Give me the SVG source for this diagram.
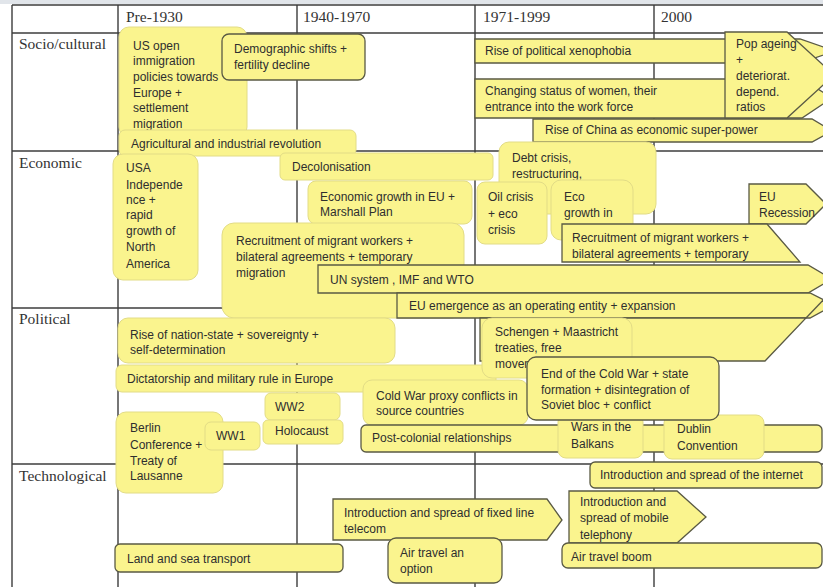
<svg xmlns="http://www.w3.org/2000/svg" width="823" height="587" viewBox="0 0 823 587">
<style>
.grid line{stroke:#3c3c3c;stroke-width:1.4}
.hd{font-family:"Liberation Serif","Times New Roman",serif;font-size:15.5px;fill:#333}
.n{fill:#FAF48E}
.d{stroke:#5a5a44;stroke-width:1.3}
.s{stroke:#e2dc86;stroke-width:1}
.t{font-family:"Liberation Sans",Arial,sans-serif;font-size:12px;fill:#2e2e2e}
</style>
<rect width="823" height="587" fill="#fff"/>
<rect width="823" height="4" fill="#e1e5ea"/>
<g class="grid">
<line x1="12" y1="5" x2="823" y2="5"/>
<line x1="12" y1="33" x2="823" y2="33"/>
<line x1="12" y1="151" x2="823" y2="151"/>
<line x1="12" y1="308" x2="823" y2="308"/>
<line x1="12" y1="464" x2="823" y2="464"/>
<line x1="12" y1="5" x2="12" y2="587"/>
<line x1="118" y1="5" x2="118" y2="587"/>
<line x1="297" y1="5" x2="297" y2="587"/>
<line x1="475" y1="5" x2="475" y2="587"/>
<line x1="654" y1="5" x2="654" y2="587"/>
</g>
<g id="headers">
<text class="hd" x="126" y="22">Pre-1930</text>
<text class="hd" x="303" y="22">1940-1970</text>
<text class="hd" x="483" y="22">1971-1999</text>
<text class="hd" x="661" y="22">2000</text>
<text class="hd" x="19" y="49">Socio/cultural</text>
<text class="hd" x="19" y="168">Economic</text>
<text class="hd" x="19" y="324">Political</text>
<text class="hd" x="19" y="481">Technological</text>
</g>
<g id="connectors"></g>
<g id="us-open"><rect class="n s" x="119" y="27" width="128" height="110" rx="10"/>
<text class="t" x="133" y="50">US open</text><text class="t" x="133" y="65">immigration</text><text class="t" x="133" y="81">policies towards</text><text class="t" x="133" y="97">Europe +</text><text class="t" x="133" y="112">settlement</text><text class="t" x="133" y="128">migration</text></g>
<g id="demographic"><rect class="n d" x="222" y="34" width="143" height="46" rx="7"/>
<text class="t" x="234" y="53">Demographic shifts +</text><text class="t" x="234" y="69">fertility decline</text></g>
<g id="agricultural"><rect class="n s" x="119" y="130" width="237" height="26" rx="6"/>
<text class="t" x="131" y="148">Agricultural and industrial revolution</text></g>
<g id="xenophobia"><polygon class="n d" points="475,39 800,39 835,51 800,63 475,63"/>
<text class="t" x="485" y="55">Rise of political xenophobia</text></g>
<g id="women"><polygon class="n d" points="475,79 802,79 832,98 802,118 475,118"/>
<text class="t" x="485" y="95">Changing status of women, their</text><text class="t" x="485" y="111">entrance into the work force</text></g>
<g id="china"><polygon class="n d" points="533,119 812,119 832,131 812,142 533,142"/>
<text class="t" x="545" y="134">Rise of China as economic super-power</text></g>
<g id="pop-ageing"><polygon class="n d" points="725,32 787,32 834,75 787,118 725,118"/>
<text class="t" x="736" y="48">Pop ageing</text><text class="t" x="736" y="64">+</text><text class="t" x="736" y="80">deteriorat.</text><text class="t" x="736" y="96">depend.</text><text class="t" x="736" y="111">ratios</text></g>
<g id="debt"><rect class="n s" x="499" y="142" width="157" height="72" rx="10"/>
<text class="t" x="512" y="162">Debt crisis,</text><text class="t" x="512" y="178">restructuring,</text></g>
<g id="decolonisation"><rect class="n s" x="280" y="153" width="213" height="27" rx="5"/>
<text class="t" x="292" y="171">Decolonisation</text></g>
<g id="usa"><rect class="n s" x="113" y="154" width="85" height="126" rx="10"/>
<text class="t" x="126" y="172">USA</text><text class="t" x="126" y="189">Independe</text><text class="t" x="126" y="204">nce +</text><text class="t" x="126" y="219">rapid</text><text class="t" x="126" y="235">growth of</text><text class="t" x="126" y="251">North</text><text class="t" x="126" y="268">America</text></g>
<g id="eu-growth"><rect class="n s" x="308" y="181" width="164" height="43" rx="8"/>
<text class="t" x="320" y="201">Economic growth in EU +</text><text class="t" x="320" y="216">Marshall Plan</text></g>
<g id="oil"><rect class="n s" x="477" y="182" width="70" height="62" rx="8"/>
<text class="t" x="488" y="201">Oil crisis</text><text class="t" x="488" y="218">+ eco</text><text class="t" x="488" y="234">crisis</text></g>
<g id="eco"><rect class="n s" x="551" y="180" width="82" height="60" rx="10"/>
<text class="t" x="564" y="201">Eco</text><text class="t" x="564" y="217">growth in</text></g>
<g id="recession"><polygon class="n d" points="749,184 806,184 826,204 806,224 749,224"/>
<text class="t" x="759" y="201">EU</text><text class="t" x="759" y="217">Recession</text></g>
<g id="recruit-left"><rect class="n s" x="222" y="223" width="242" height="95" rx="12"/>
<text class="t" x="236" y="245">Recruitment of migrant workers +</text><text class="t" x="236" y="261">bilateral agreements + temporary</text><text class="t" x="236" y="277">migration</text></g>
<g id="recruit-right"><polygon class="n d" points="562,224 767,224 800,262 562,262"/>
<text class="t" x="572" y="242">Recruitment of migrant workers +</text><text class="t" x="572" y="258">bilateral agreements + temporary</text></g>
<g id="un"><polygon class="n d" points="318,265 808,265 832,279 808,293 318,293"/>
<text class="t" x="330" y="284">UN system , IMF and WTO</text></g>
<g id="eu-emergence"><polygon class="n d" points="397,293 810,293 834,305 810,318 397,318"/>
<text class="t" x="409" y="310">EU emergence as an operating entity + expansion</text></g>
<g id="eu-band"><polygon class="n d" points="480,318 806,318 765,361 480,361"/>
<line class="d" x1="806" y1="318" x2="828" y2="295"/></g>
<g id="nation-state"><rect class="n s" x="118" y="318" width="277" height="45" rx="10"/>
<text class="t" x="130" y="339">Rise of nation-state + sovereignty +</text><text class="t" x="130" y="354">self-determination</text></g>
<g id="dictatorship"><rect class="n s" x="116" y="365" width="380" height="27" rx="6"/>
<text class="t" x="127" y="383">Dictatorship and military rule in Europe</text></g>
<g id="schengen"><rect class="n s" x="482" y="318" width="150" height="60" rx="10"/>
<text class="t" x="495" y="336">Schengen + Maastricht</text><text class="t" x="495" y="352">treaties, free</text><text class="t" x="495" y="368">movement</text></g>
<g id="proxy"><rect class="n s" x="363" y="380" width="165" height="45" rx="9"/>
<text class="t" x="376" y="400">Cold War proxy conflicts in</text><text class="t" x="376" y="415">source countries</text></g>
<g id="postcolonial"><rect class="n d" x="361" y="425" width="461" height="27" rx="5"/>
<text class="t" x="372" y="442">Post-colonial relationships</text></g>
<g id="balkans"><rect class="n s" x="558" y="414" width="85" height="44" rx="8"/>
<text class="t" x="571" y="431">Wars in the</text><text class="t" x="571" y="448">Balkans</text></g>
<g id="dublin"><rect class="n s" x="664" y="415" width="100" height="44" rx="8"/>
<text class="t" x="677" y="433">Dublin</text><text class="t" x="677" y="450">Convention</text></g>
<g id="cold-war-end"><rect class="n d" x="527" y="357" width="192" height="63" rx="9"/>
<text class="t" x="541" y="378">End of the Cold War + state</text><text class="t" x="541" y="394">formation + disintegration of</text><text class="t" x="541" y="409">Soviet bloc + conflict</text></g>
<g id="ww2"><rect class="n s" x="265" y="393" width="75" height="27" rx="6"/>
<text class="t" x="275" y="411">WW2</text></g>
<g id="holocaust"><rect class="n s" x="263" y="420" width="80" height="24" rx="5"/>
<text class="t" x="275" y="435">Holocaust</text></g>
<g id="berlin"><rect class="n s" x="116" y="412" width="107" height="81" rx="10"/>
<text class="t" x="130" y="432">Berlin</text><text class="t" x="130" y="449">Conference +</text><text class="t" x="130" y="465">Treaty of</text><text class="t" x="130" y="480">Lausanne</text></g>
<g id="ww1"><rect class="n s" x="205" y="422" width="55" height="28" rx="6"/>
<text class="t" x="216" y="440">WW1</text></g>
<g id="internet"><rect class="n d" x="590" y="462" width="232" height="26" rx="5"/>
<text class="t" x="600" y="479">Introduction and spread of the internet</text></g>
<g id="fixed-line"><polygon class="n d" points="333,499 547,499 562,520 547,540 333,540"/>
<text class="t" x="344" y="517">Introduction and spread of fixed line</text><text class="t" x="344" y="533">telecom</text></g>
<g id="mobile"><polygon class="n d" points="569,491 677,491 706,517 677,543 569,543"/>
<text class="t" x="580" y="506">Introduction and</text><text class="t" x="580" y="522">spread of mobile</text><text class="t" x="580" y="539">telephony</text></g>
<g id="air-boom"><rect class="n d" x="562" y="543" width="260" height="25" rx="6"/>
<text class="t" x="571" y="561">Air travel boom</text></g>
<g id="air-option"><rect class="n d" x="388" y="538" width="114" height="45" rx="8"/>
<text class="t" x="400" y="557">Air travel an</text><text class="t" x="400" y="573">option</text></g>
<g id="land-sea"><rect class="n d" x="115" y="544" width="228" height="28" rx="5"/>
<text class="t" x="127" y="563">Land and sea transport</text></g>
</svg>
